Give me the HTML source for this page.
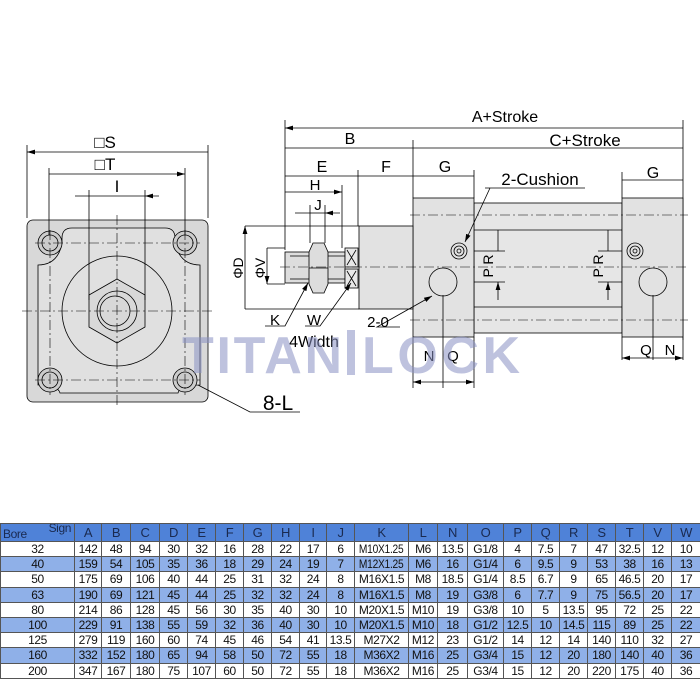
<!DOCTYPE html>
<html><head><meta charset="utf-8"><style>
body{margin:0;background:#fff;width:700px;height:700px;overflow:hidden;position:relative;font-family:"Liberation Sans",sans-serif}
svg{position:absolute;left:0;top:0}
table{position:absolute;left:0;top:523px;border-collapse:collapse;table-layout:fixed;width:700px;font-family:"Liberation Sans Narrow","Liberation Sans",sans-serif;font-size:12px;letter-spacing:-0.4px}
td{border:1px solid #555;text-align:center;padding:0;height:14.2px;line-height:14px;overflow:hidden;white-space:nowrap;color:#111;vertical-align:middle}
td.k span{display:inline-block;transform:scaleX(0.85);letter-spacing:-0.3px}
tr.h td{background:#4f82d8;height:17px;color:#1a2a50;font-size:13px}
tr.b td{background:#8fb0e8}
</style></head><body>
<svg width="700" height="520" viewBox="0 0 700 520" font-family="Liberation Sans, sans-serif">
<defs><marker id="a" viewBox="0 0 10 6" refX="10" refY="3" markerWidth="10" markerHeight="6" orient="auto-start-reverse"><path d="M0,0L10,3L0,6z" fill="#000"/></marker></defs>
<g stroke="#000" stroke-width="0.8" fill="none">
<rect x="27" y="220" width="181" height="182" rx="6" fill="#d8d8d8"/>
<path d="M72,228H165Q175,228 175,238V243Q180,265 200,265V385Q180,385 178,393H60Q58,385 38,385V265Q58,265 62,243V238Q62,228 72,228Z" fill="#e0e0e0"/>
<circle cx="117" cy="311" r="55" fill="#e0e0e0"/>
<polygon points="117,279 145,295 145,327 117,343 89,327 89,295" fill="#d8d8d8"/>
<circle cx="117" cy="311" r="20"/><circle cx="115" cy="311" r="15"/>
<g fill="#ccc"><circle cx="50" cy="243" r="12"/><circle cx="185" cy="243" r="12"/><circle cx="50" cy="380" r="12"/><circle cx="185" cy="380" r="12"/></g>
<circle cx="50" cy="243" r="8"/><circle cx="185" cy="243" r="8"/><circle cx="50" cy="380" r="8"/><circle cx="185" cy="380" r="8"/>
<g stroke-dasharray="10,3,2,3" stroke-width="0.6"><path d="M117,215V405M22,311H212M35,243H200M35,380H200M50,230V395M185,230V395"/></g>
<path d="M27,218V145M208,218V145M49,235V168M185,235V168M89,300V190M145,300V190"/>
<path d="M27,152H208M49,174H185" marker-start="url(#a)" marker-end="url(#a)"/>
<path d="M75,196H89M159,196H145" marker-end="url(#a)"/>
<path d="M89,196H145"/>
<path d="M198,385L250,412H300"/>
<path d="M285,120V250M683,120V340M413,140V198M358,170V226M342,185V248M310,205V243M325,205V243M622,172V198M474,170V198"/>
<path d="M285,128H683M285,148H413M413,148H683M285,176H358M358,176H413M413,176H474M622,180H683M285,192H342" marker-start="url(#a)" marker-end="url(#a)"/>
<path d="M295,213H310M340,213H325" marker-end="url(#a)"/><path d="M310,213H325"/>
<rect x="474" y="203" width="148" height="130" fill="#e6e6e6"/>
<path d="M474,230H622M474,307H622"/>
<rect x="413" y="198" width="61" height="139" fill="#e2e2e2"/>
<rect x="622" y="198" width="61" height="139" fill="#e2e2e2"/>
<rect x="359" y="226" width="54" height="83" fill="#e2e2e2"/>
<rect x="285" y="252" width="60" height="31" fill="#ddd"/>
<path d="M290,256H345M290,279H345"/>
<polygon points="313,243 324,243 328,252 328,284 324,293 313,293 309,284 309,252" fill="#ddd"/>
<path d="M309,268H328"/>
<rect x="345" y="248" width="13" height="19" fill="#e8e8e8"/><rect x="345" y="269" width="13" height="19" fill="#e8e8e8"/>
<path d="M347,250L356,265M356,250L347,265M347,271L356,286M356,271L347,286"/>
<circle cx="459" cy="251" r="8"/><circle cx="459" cy="251" r="5"/><circle cx="459" cy="251" r="2"/>
<circle cx="635" cy="251" r="8"/><circle cx="635" cy="251" r="5"/><circle cx="635" cy="251" r="2"/>
<circle cx="443" cy="282" r="14"/><circle cx="653" cy="282" r="14"/>
<g stroke-dasharray="10,3,2,3" stroke-width="0.6"><path d="M280,267H688M410,215H688M410,320H688"/></g>
<path d="M245,226H359M245,309H359M267,248H285M267,284H285M443,295V388M653,295V360M413,337V388M474,337V388M683,337V360M622,337V360M474,251H505M474,282H505M598,251H622M598,282H622"/>
<path d="M245,226V309M267,248V284" marker-start="url(#a)" marker-end="url(#a)"/>
<path d="M498,230V251M498,300V282" marker-end="url(#a)"/><path d="M608,230V251M608,300V282" marker-end="url(#a)"/>
<path d="M413,382H443M443,382H474" marker-start="url(#a)" marker-end="url(#a)"/>
<path d="M622,358H653M653,358H683" marker-start="url(#a)" marker-end="url(#a)"/>
<path d="M490,188L465,242" marker-end="url(#a)"/>
<path d="M400,327H377L432,296" marker-end="url(#a)"/>
<path d="M265,326H285L308,283" marker-end="url(#a)"/>
<path d="M305,326H320L351,283" marker-end="url(#a)"/>
<path d="M485,188H585"/>
</g>
<g font-size="17" fill="#000" text-anchor="middle">
<text x="105" y="148">□S</text><text x="105" y="170">□T</text><text x="117" y="192">I</text>
<text x="278" y="410" font-size="21">8-L</text>
<text x="505" y="122" font-size="16">A+Stroke</text>
<text x="350" y="144" font-size="16">B</text>
<text x="585" y="146" font-size="17">C+Stroke</text>
<text x="322" y="172" font-size="16">E</text><text x="386" y="172" font-size="16">F</text>
<text x="445" y="172" font-size="16">G</text><text x="653" y="178" font-size="16">G</text>
<text x="315" y="190" font-size="15">H</text><text x="318" y="210" font-size="15">J</text>
<text x="540" y="185" font-size="17">2-Cushion</text>
<text x="275" y="325" font-size="15">K</text><text x="314" y="325" font-size="15">W</text>
<text x="314" y="347" font-size="16">4Width</text>
<text x="378" y="327" font-size="15">2-0</text>
<text x="429" y="361" font-size="15">N</text><text x="453" y="361" font-size="15">Q</text>
<text x="646" y="355" font-size="15">Q</text><text x="670" y="355" font-size="15">N</text>
<text transform="translate(243,268) rotate(-90)" font-size="14">ΦD</text>
<text transform="translate(265,268) rotate(-90)" font-size="14">ΦV</text>
<text transform="translate(493,266) rotate(-90)" font-size="14">P R</text>
<text transform="translate(603,266) rotate(-90)" font-size="14">P R</text>
</g>
<g fill="#8a92c4" opacity="0.55" font-weight="bold" font-size="52">
<text x="182" y="373" textLength="160">TITAN</text>
<text x="362" y="373" textLength="158">LOCK</text>
<rect x="347" y="330" width="8" height="45"/>
</g>
</svg>
<table>
<colgroup><col style="width:74px"><col style="width:27px"><col style="width:29px"><col style="width:29px"><col style="width:28px"><col style="width:28px"><col style="width:28px"><col style="width:28px"><col style="width:28px"><col style="width:27px"><col style="width:28px"><col style="width:54px"><col style="width:29px"><col style="width:30px"><col style="width:36px"><col style="width:28px"><col style="width:28px"><col style="width:28px"><col style="width:28px"><col style="width:28px"><col style="width:28px"><col style="width:29px"></colgroup>
<tr class="h"><td style="position:relative;text-align:left"><span style="position:absolute;left:2px;top:3px;font-size:12px">Bore</span><span style="position:absolute;right:3px;top:-3px;font-size:12px">Sign</span></td><td>A</td><td>B</td><td>C</td><td>D</td><td>E</td><td>F</td><td>G</td><td>H</td><td>I</td><td>J</td><td>K</td><td>L</td><td>N</td><td>O</td><td>P</td><td>Q</td><td>R</td><td>S</td><td>T</td><td>V</td><td>W</td></tr>
<tr><td>32</td><td>142</td><td>48</td><td>94</td><td>30</td><td>32</td><td>16</td><td>28</td><td>22</td><td>17</td><td>6</td><td class="k"><span>M10X1.25</span></td><td>M6</td><td>13.5</td><td>G1/8</td><td>4</td><td>7.5</td><td>7</td><td>47</td><td>32.5</td><td>12</td><td>10</td></tr>
<tr class="b"><td>40</td><td>159</td><td>54</td><td>105</td><td>35</td><td>36</td><td>18</td><td>29</td><td>24</td><td>19</td><td>7</td><td class="k"><span>M12X1.25</span></td><td>M6</td><td>16</td><td>G1/4</td><td>6</td><td>9.5</td><td>9</td><td>53</td><td>38</td><td>16</td><td>13</td></tr>
<tr><td>50</td><td>175</td><td>69</td><td>106</td><td>40</td><td>44</td><td>25</td><td>31</td><td>32</td><td>24</td><td>8</td><td class="k">M16X1.5</td><td>M8</td><td>18.5</td><td>G1/4</td><td>8.5</td><td>6.7</td><td>9</td><td>65</td><td>46.5</td><td>20</td><td>17</td></tr>
<tr class="b"><td>63</td><td>190</td><td>69</td><td>121</td><td>45</td><td>44</td><td>25</td><td>32</td><td>32</td><td>24</td><td>8</td><td class="k">M16X1.5</td><td>M8</td><td>19</td><td>G3/8</td><td>6</td><td>7.7</td><td>9</td><td>75</td><td>56.5</td><td>20</td><td>17</td></tr>
<tr><td>80</td><td>214</td><td>86</td><td>128</td><td>45</td><td>56</td><td>30</td><td>35</td><td>40</td><td>30</td><td>10</td><td class="k">M20X1.5</td><td>M10</td><td>19</td><td>G3/8</td><td>10</td><td>5</td><td>13.5</td><td>95</td><td>72</td><td>25</td><td>22</td></tr>
<tr class="b"><td>100</td><td>229</td><td>91</td><td>138</td><td>55</td><td>59</td><td>32</td><td>36</td><td>40</td><td>30</td><td>10</td><td class="k">M20X1.5</td><td>M10</td><td>18</td><td>G1/2</td><td>12.5</td><td>10</td><td>14.5</td><td>115</td><td>89</td><td>25</td><td>22</td></tr>
<tr><td>125</td><td>279</td><td>119</td><td>160</td><td>60</td><td>74</td><td>45</td><td>46</td><td>54</td><td>41</td><td>13.5</td><td class="k">M27X2</td><td>M12</td><td>23</td><td>G1/2</td><td>14</td><td>12</td><td>14</td><td>140</td><td>110</td><td>32</td><td>27</td></tr>
<tr class="b"><td>160</td><td>332</td><td>152</td><td>180</td><td>65</td><td>94</td><td>58</td><td>50</td><td>72</td><td>55</td><td>18</td><td class="k">M36X2</td><td>M16</td><td>25</td><td>G3/4</td><td>15</td><td>12</td><td>20</td><td>180</td><td>140</td><td>40</td><td>36</td></tr>
<tr><td>200</td><td>347</td><td>167</td><td>180</td><td>75</td><td>107</td><td>60</td><td>50</td><td>72</td><td>55</td><td>18</td><td class="k">M36X2</td><td>M16</td><td>25</td><td>G3/4</td><td>15</td><td>12</td><td>20</td><td>220</td><td>175</td><td>40</td><td>36</td></tr>
</table>
</body></html>
